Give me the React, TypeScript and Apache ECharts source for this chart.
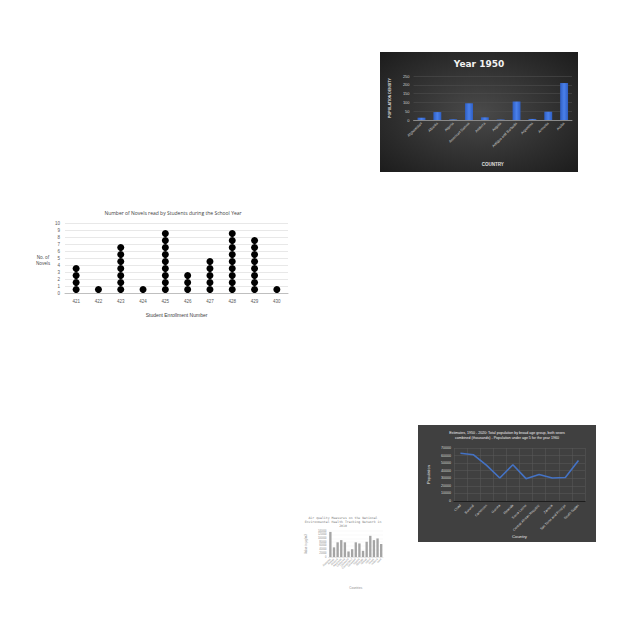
import React, { useEffect, useRef } from "react";
import * as echarts from "echarts";

// ---- Chart 1: Year 1950 population density ----
const densityCountries = ["Afghanistan", "Albania", "Algeria", "American Samoa", "Andorra", "Angola", "Antigua and Barbuda", "Argentina", "Armenia", "Aruba"];
const densityValues = [13, 45, 4, 95, 15, 3, 105, 6, 47, 210];

// ---- Chart 2: novels dot plot ----
const students = ["421", "422", "423", "424", "425", "426", "427", "428", "429", "430"];
const novelCounts = [4, 1, 7, 1, 9, 3, 5, 9, 8, 1];

// ---- Chart 3: population under age 5 ----
const popCountries = ["Chad", "Burundi", "Cameroon", "Guinea", "Rwanda", "Sierra Leone", "Central African Republic", "Zambia", "Sao Tome and Principe", "South Sudan"];
const popValues = [63000, 61000, 47000, 30400, 47800, 29500, 35000, 30400, 31000, 53500];

// ---- Chart 4: air quality ----
const airCountries = ["Alabama", "Alaska", "Arizona", "Arkansas", "California", "Colorado", "Connecticut", "Delaware", "Florida", "Georgia", "Hawaii", "Idaho", "Illinois", "Indiana", "Iowa"];
const airValues = [135000, 52000, 79000, 91000, 79000, 30000, 42000, 79000, 73000, 33000, 82000, 114000, 91000, 100000, 70000];

const plain = (v: number) => String(v);

function useChart(build: () => any) {
  const ref = useRef<HTMLDivElement>(null);
  useEffect(() => {
    if (!ref.current) return;
    const chart = echarts.init(ref.current, undefined, { renderer: "svg" });
    chart.setOption(build());
    return () => chart.dispose();
  }, []);
  return ref;
}

function DensityChart() {
  const ref = useChart(() => ({
    animation: false,
    backgroundColor: "transparent",
    graphic: [
      { type: "text", x: 99, y: 12, style: { text: "Year 1950", fill: "#f2f2f2", font: "bold 9px 'DejaVu Sans', sans-serif", align: "center", verticalAlign: "middle" } },
    ],
    grid: { left: 24, right: 6, top: 24, bottom: 52 },
    xAxis: {
      type: "category",
      data: densityCountries,
      axisLine: { lineStyle: { color: "#8a8a8a" } },
      axisTick: { show: false },
      axisLabel: { rotate: 45, fontSize: 3.6, color: "#d0d0d0", margin: 3, interval: 0 },
      name: "COUNTRY",
      nameLocation: "middle",
      nameGap: 42,
      nameTextStyle: { fontSize: 4.5, color: "#e0e0e0", fontWeight: "bold" },
    },
    yAxis: {
      type: "value",
      min: 0,
      max: 250,
      interval: 50,
      axisLabel: { fontSize: 4, color: "#d0d0d0", margin: 4, formatter: plain },
      splitLine: { lineStyle: { color: "#4e4e4e", width: 0.6 } },
      name: "POPULATION DENSITY",
      nameLocation: "middle",
      nameGap: 14,
      nameTextStyle: { fontSize: 3.6, color: "#e0e0e0", fontWeight: "bold" },
    },
    series: [
      {
        type: "bar",
        data: densityValues,
        barWidth: "50%",
        itemStyle: {
          color: new echarts.graphic.LinearGradient(0, 0, 1, 0, [
            { offset: 0, color: "#2f5fc4" },
            { offset: 0.5, color: "#4a80ea" },
            { offset: 1, color: "#2f5fc4" },
          ]),
        },
      },
    ],
  }));
  return (
    <div
      ref={ref}
      style={{
        position: "absolute",
        left: 380,
        top: 52,
        width: 198,
        height: 120,
        background: "radial-gradient(ellipse at center, #4a4a4a 0%, #2e2e2e 60%, #1c1c1c 100%)",
      }}
    />
  );
}

function NovelsChart() {
  const ref = useChart(() => {
    const dots: number[][] = [];
    novelCounts.forEach((c, i) => {
      for (let k = 0; k < c; k++) dots.push([i, k + 0.5]);
    });
    return {
      animation: false,
      backgroundColor: "#ffffff",
      graphic: [
        { type: "text", x: 143, y: 10, style: { text: "Number of Novels read by Students during the School Year", fill: "#404040", font: "5px 'Open Sans', sans-serif", align: "center", verticalAlign: "middle" } },
        { type: "text", x: 13, y: 57, style: { text: "No. of\nNovels", fill: "#404040", font: "4.5px 'Open Sans', sans-serif", align: "center", verticalAlign: "middle", lineHeight: 6 } },
      ],
      grid: { left: 35, right: 12, top: 20, bottom: 30 },
      xAxis: {
        type: "category",
        data: students,
        axisLine: { lineStyle: { color: "#bfbfbf" } },
        axisTick: { show: false },
        axisLabel: { fontSize: 4.5, color: "#595959", margin: 6 },
        name: "Student Enrollment Number",
        nameLocation: "middle",
        nameGap: 19,
        nameTextStyle: { fontSize: 5, color: "#404040" },
      },
      yAxis: {
        type: "value",
        min: 0,
        max: 10,
        interval: 1,
        axisLabel: { fontSize: 4.5, color: "#595959", margin: 5 },
        splitLine: { lineStyle: { color: "#d9d9d9", width: 0.6 } },
      },
      series: [
        {
          type: "scatter",
          data: dots,
          symbolSize: 7,
          itemStyle: { color: "#000000", opacity: 1 },
        },
      ],
    };
  });
  return <div ref={ref} style={{ position: "absolute", left: 30, top: 203, width: 270, height: 120 }} />;
}

function PopulationChart() {
  const ref = useChart(() => ({
    animation: false,
    backgroundColor: "#404040",
    graphic: [
      {
        type: "text",
        x: 89,
        y: 10,
        style: {
          text: "Estimates, 1950 - 2020: Total population by broad age group, both sexes\ncombined (thousands) - Population under age 5 for the year 1960",
          fill: "#f0f0f0",
          font: "3.6px 'Liberation Sans', sans-serif",
          align: "center",
          verticalAlign: "middle",
          lineHeight: 5,
        },
      },
    ],
    grid: { left: 30, right: 11, top: 23, bottom: 41 },
    xAxis: {
      type: "category",
      data: popCountries,
      axisLine: { lineStyle: { color: "#111111", width: 0.8 } },
      axisTick: { show: false },
      axisLabel: { rotate: 45, fontSize: 3.4, color: "#d9d9d9", margin: 4, interval: 0 },
      splitLine: { show: true, lineStyle: { color: "#5a5a5a", width: 0.5 } },
      name: "Country",
      nameLocation: "middle",
      nameGap: 32,
      nameTextStyle: { fontSize: 4.3, color: "#e6e6e6" },
    },
    yAxis: {
      type: "value",
      min: 0,
      max: 70000,
      interval: 10000,
      axisLabel: { fontSize: 3.6, color: "#d9d9d9", margin: 3, formatter: plain },
      splitLine: { lineStyle: { color: "#5a5a5a", width: 0.5 } },
      name: "Population",
      nameLocation: "middle",
      nameGap: 20,
      nameTextStyle: { fontSize: 4, color: "#e6e6e6" },
    },
    series: [
      {
        type: "line",
        data: popValues,
        symbol: "none",
        lineStyle: { color: "#4472c4", width: 1.6 },
      },
    ],
  }));
  return <div ref={ref} style={{ position: "absolute", left: 418, top: 425, width: 178, height: 117 }} />;
}

function AirChart() {
  const ref = useChart(() => ({
    animation: false,
    backgroundColor: "#ffffff",
    graphic: [
      {
        type: "text",
        x: 47,
        y: 10,
        style: {
          text: "Air quality Measures on the National\nEnvironmental Health Tracking Network in\n2010",
          fill: "#808080",
          font: "3.2px 'DejaVu Sans Mono', monospace",
          align: "center",
          verticalAlign: "middle",
          lineHeight: 4,
        },
      },
    ],
    grid: { left: 18, right: 3, top: 19, bottom: 37 },
    xAxis: {
      type: "category",
      data: airCountries,
      axisLine: { lineStyle: { color: "#d0d0d0", width: 0.5 } },
      axisTick: { show: false },
      axisLabel: { rotate: 45, fontSize: 2.6, color: "#8c8c8c", margin: 2, interval: 0 },
      name: "Countries",
      nameLocation: "middle",
      nameGap: 29,
      nameTextStyle: { fontSize: 3, color: "#8c8c8c" },
    },
    yAxis: {
      type: "value",
      min: 0,
      max: 140000,
      interval: 20000,
      axisLabel: { fontSize: 2.6, color: "#8c8c8c", margin: 2, formatter: plain },
      splitLine: { lineStyle: { color: "#eeeeee", width: 0.4 } },
      name: "Value in μg/m3",
      nameLocation: "middle",
      nameGap: 13,
      nameTextStyle: { fontSize: 3, color: "#8c8c8c" },
    },
    series: [
      {
        type: "bar",
        data: airValues,
        barWidth: "65%",
        itemStyle: { color: "#a5a5a5" },
      },
    ],
  }));
  return <div ref={ref} style={{ position: "absolute", left: 296, top: 512, width: 90, height: 82 }} />;
}

export default function App() {
  return (
    <div style={{ position: "fixed", left: 0, top: 0, width: 640, height: 640, background: "#ffffff" }}>
      <DensityChart />
      <NovelsChart />
      <PopulationChart />
      <AirChart />
    </div>
  );
}
